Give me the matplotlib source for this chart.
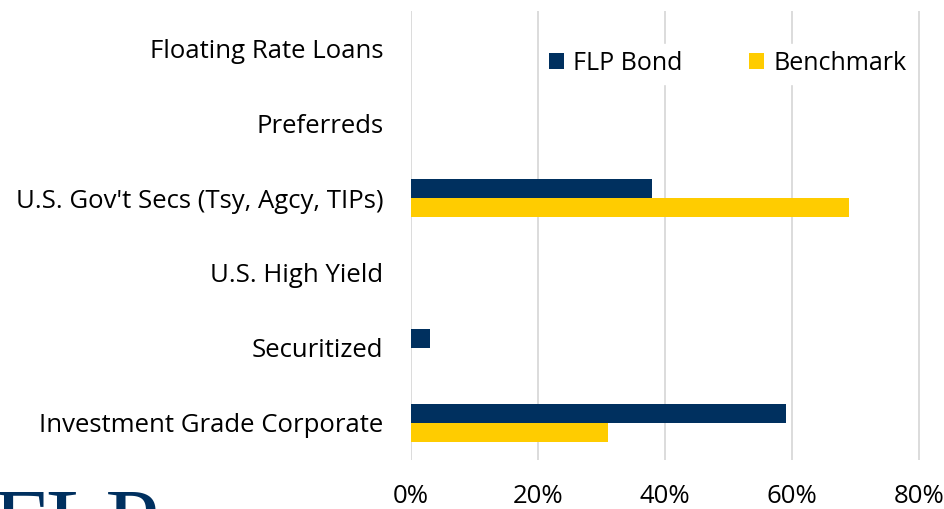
import numpy as np
import matplotlib.pyplot as plt
from matplotlib.ticker import FuncFormatter

categories = ["Investment Grade Corporate", "Securitized", "U.S. High Yield",
              "U.S. Gov't Secs (Tsy, Agcy, TIPs)", "Preferreds", "Floating Rate Loans"]
flp_bond = [59, 3, 0, 38, 0, 0]
benchmark = [31, 0, 0, 69, 0, 0]
x_ticks = [0, 20, 40, 60, 80]

navy = "#00305F"
gold = "#FFCC00"

plt.rcParams['font.family'] = ['Open Sans', 'DejaVu Sans']

fig = plt.figure(figsize=(9.45, 5.09), dpi=100)
ax = fig.add_axes([411/945, 1 - 460/509, (919 - 411)/945 + 0.02, (460 - 11)/509])

y = np.arange(len(categories))
h = 0.255
ax.barh(y + h/2, flp_bond, height=h, color=navy, label="FLP Bond", zorder=3)
ax.barh(y - h/2, benchmark, height=h, color=gold, label="Benchmark", zorder=3)

ax.set_xlim(0, 80 * (1 + 0.02 * 945 / (919 - 411)))
ax.set_ylim(-0.5, len(categories) - 0.5)
ax.set_xticks(x_ticks)
ax.xaxis.set_major_formatter(FuncFormatter(lambda v, p: f"{v:.0f}%"))
ax.set_yticks(y)
ax.set_yticklabels(categories)
ax.tick_params(axis='both', length=0, labelsize=18.5, colors="#000000")
ax.tick_params(axis='y', pad=20)
ax.tick_params(axis='x', pad=17)
for s in ax.spines.values():
    s.set_visible(False)
ax.grid(axis='x', color="#D9D9D9", linewidth=1.3, zorder=0)

leg = ax.legend(loc='upper right', bbox_to_anchor=(0.978, 0.955), ncol=2, frameon=True,
                fontsize=18, handlelength=0.6, handleheight=0.6, handletextpad=0.35,
                columnspacing=2.7, borderpad=0.3, fancybox=False)
leg.get_frame().set_edgecolor("white")
leg.get_frame().set_facecolor("white")
leg.get_frame().set_alpha(1)
leg.set_zorder(5)

# logo, cut off at the bottom
fig.text(-0.008, 1 - 488/509, "FLP", family="Liberation Serif", fontsize=70,
         color=navy, va='top', ha='left')

fig.savefig("out.png", dpi=100)
